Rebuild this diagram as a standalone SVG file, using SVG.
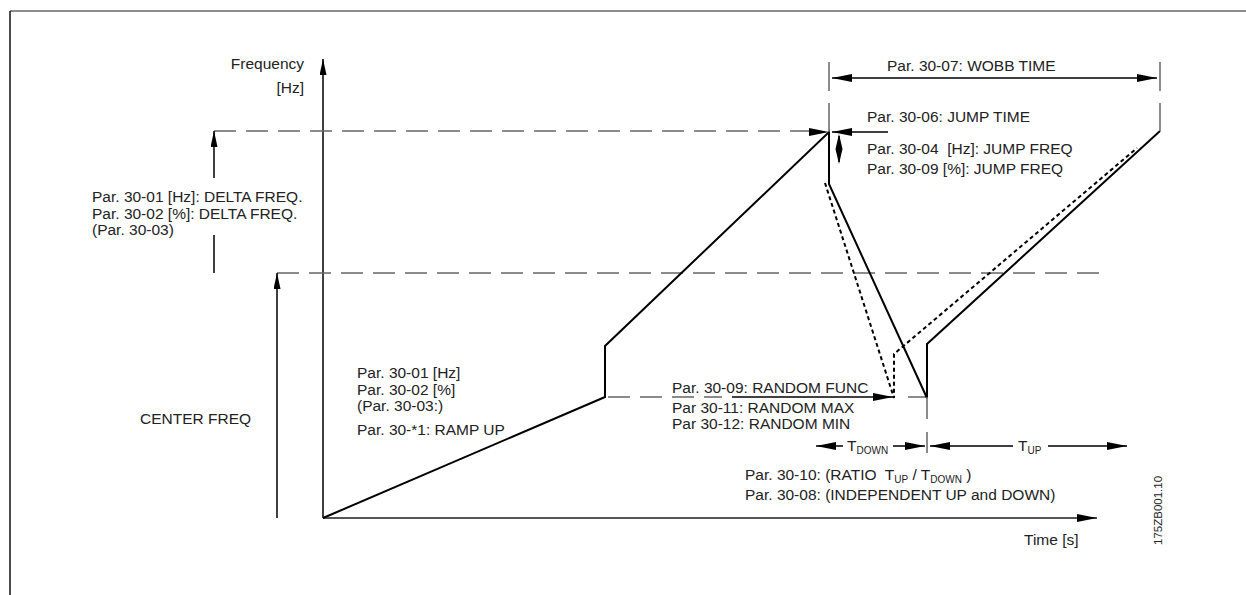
<svg xmlns="http://www.w3.org/2000/svg" width="1246" height="595" viewBox="0 0 1246 595">
<style>
text{font-family:"Liberation Sans",Arial,sans-serif;font-size:15.5px;fill:#222;white-space:pre}
.sub{font-size:10px}
.small{font-size:11.5px}
.dash{stroke:#666;stroke-width:1.5;stroke-dasharray:22 10;fill:none}
.gray{stroke:#666;stroke-width:1.5;fill:none}
.blk{stroke:#000;stroke-width:1.5;fill:none}
.curve{stroke:#000;stroke-width:2;fill:none;stroke-linejoin:miter}
.dot{stroke:#000;stroke-width:2;fill:none;stroke-dasharray:4 3}
</style>
<defs>
<marker id="ah" markerUnits="userSpaceOnUse" markerWidth="20" markerHeight="8" refX="20" refY="4" orient="auto-start-reverse" viewBox="0 0 20 8">
<path d="M0,0 L20,4 L0,8 Z" fill="#000"/>
</marker>
<marker id="ahs" markerUnits="userSpaceOnUse" markerWidth="16" markerHeight="7" refX="16" refY="3.5" orient="auto" viewBox="0 0 16 7">
<path d="M0,0 L16,3.5 L0,7 Z" fill="#000"/>
</marker>
</defs>
<rect width="1246" height="595" fill="#fff"/>
<g id="frame">
<line x1="10" y1="11" x2="1246" y2="11" stroke="#666" stroke-width="1.5"/>
<line x1="10" y1="11" x2="10" y2="595" stroke="#111" stroke-width="1.5"/>
</g>
<g id="connectors">
<line class="blk" x1="323" y1="518" x2="323" y2="59" marker-end="url(#ahs)"/>
<line x1="323" y1="518" x2="1097" y2="518" stroke="#555" stroke-width="2" marker-end="url(#ah)"/>
<line class="dash" x1="214" y1="131" x2="812" y2="131"/>
<line class="dash" x1="277" y1="273" x2="1105" y2="273"/>
<line class="dash" x1="605" y1="397" x2="722" y2="397" stroke-dashoffset="-3"/>
<line class="blk" x1="732" y1="397" x2="893" y2="397" marker-end="url(#ah)"/>
<line class="gray" x1="908" y1="397" x2="927" y2="397"/>
<line class="blk" x1="214" y1="178" x2="214" y2="131" marker-end="url(#ahs)"/>
<line class="blk" x1="214" y1="235" x2="214" y2="273"/>
<line class="blk" x1="277" y1="518" x2="277" y2="273" marker-end="url(#ahs)"/>
<path class="curve" d="M323,518 L605,397 L605,346 L829,132 L829,184 L927,398 L927,344 L1160,131"/>
<path class="dot" d="M825,183 L894,398 L894,354 L1137,148"/>
<line class="gray" x1="829" y1="62" x2="829" y2="91"/>
<line class="gray" x1="829" y1="103" x2="829" y2="132"/>
<line class="gray" x1="1160" y1="62" x2="1160" y2="91"/>
<line class="gray" x1="1160" y1="103" x2="1160" y2="131"/>
<line class="blk" x1="832" y1="78" x2="1157" y2="78" marker-start="url(#ah)" marker-end="url(#ah)"/>
<path d="M809,128 L829,132 L809,136 Z" fill="#000"/>
<line class="blk" x1="888" y1="132" x2="832" y2="132" marker-end="url(#ah)"/>
<line class="blk" x1="839" y1="136" x2="839" y2="162"/>
<path d="M839,134 L842.5,149 L835.5,149 Z M839,164 L842.5,149 L835.5,149 Z" fill="#000"/>
<line class="gray" x1="927" y1="397" x2="927" y2="419"/>
<line class="gray" x1="927" y1="432" x2="927" y2="453"/>
<line class="blk" x1="843" y1="446" x2="816" y2="446" marker-end="url(#ah)"/>
<line class="blk" x1="893" y1="446" x2="925" y2="446" marker-end="url(#ah)"/>
<line class="blk" x1="1013" y1="446" x2="930" y2="446" marker-end="url(#ah)"/>
<line class="blk" x1="1048" y1="446" x2="1127" y2="446" marker-end="url(#ah)"/>
</g>
<g id="axis-labels">
<text x="304" y="69" text-anchor="end">Frequency</text>
<text x="304" y="93" text-anchor="end">[Hz]</text>
<text x="1024" y="545">Time [s]</text>
</g>
<g id="delta-freq">
<text x="92" y="202">Par. 30-01 [Hz]: DELTA FREQ.</text>
<text x="92" y="219">Par. 30-02 [%]: DELTA FREQ.</text>
<text x="92" y="235">(Par. 30-03)</text>
</g>
<g id="center-freq">
<text x="140" y="424">CENTER FREQ</text>
</g>
<g id="ramp-up">
<text x="357" y="378">Par. 30-01 [Hz]</text>
<text x="357" y="395">Par. 30-02 [%]</text>
<text x="357" y="411">(Par. 30-03:)</text>
<text x="357" y="435">Par. 30-*1: RAMP UP</text>
</g>
<g id="wobb-time">
<text x="887" y="71">Par. 30-07: WOBB TIME</text>
</g>
<g id="jump">
<text x="867" y="122">Par. 30-06: JUMP TIME</text>
<text x="867" y="154">Par. 30-04  [Hz]: JUMP FREQ</text>
<text x="867" y="174">Par. 30-09 [%]: JUMP FREQ</text>
</g>
<g id="random">
<text x="672" y="393">Par. 30-09: RANDOM FUNC</text>
<text x="672" y="413">Par 30-11: RANDOM MAX</text>
<text x="672" y="429">Par 30-12: RANDOM MIN</text>
</g>
<g id="tdown-tup">
<text x="847" y="451">T<tspan class="sub" dy="3">DOWN</tspan></text>
<text x="1018" y="451">T<tspan class="sub" dy="3">UP</tspan></text>
</g>
<g id="ratio">
<text x="745" y="480">Par. 30-10: (RATIO  T<tspan class="sub" dy="3">UP</tspan><tspan dy="-3"> / T</tspan><tspan class="sub" dy="3">DOWN</tspan><tspan dy="-3"> )</tspan></text>
<text x="745" y="500">Par. 30-08: (INDEPENDENT UP and DOWN)</text>
</g>
<g id="code">
<text class="small" x="1162" y="545" transform="rotate(-90 1162 545)">175ZB001.10</text>
</g>
</svg>
